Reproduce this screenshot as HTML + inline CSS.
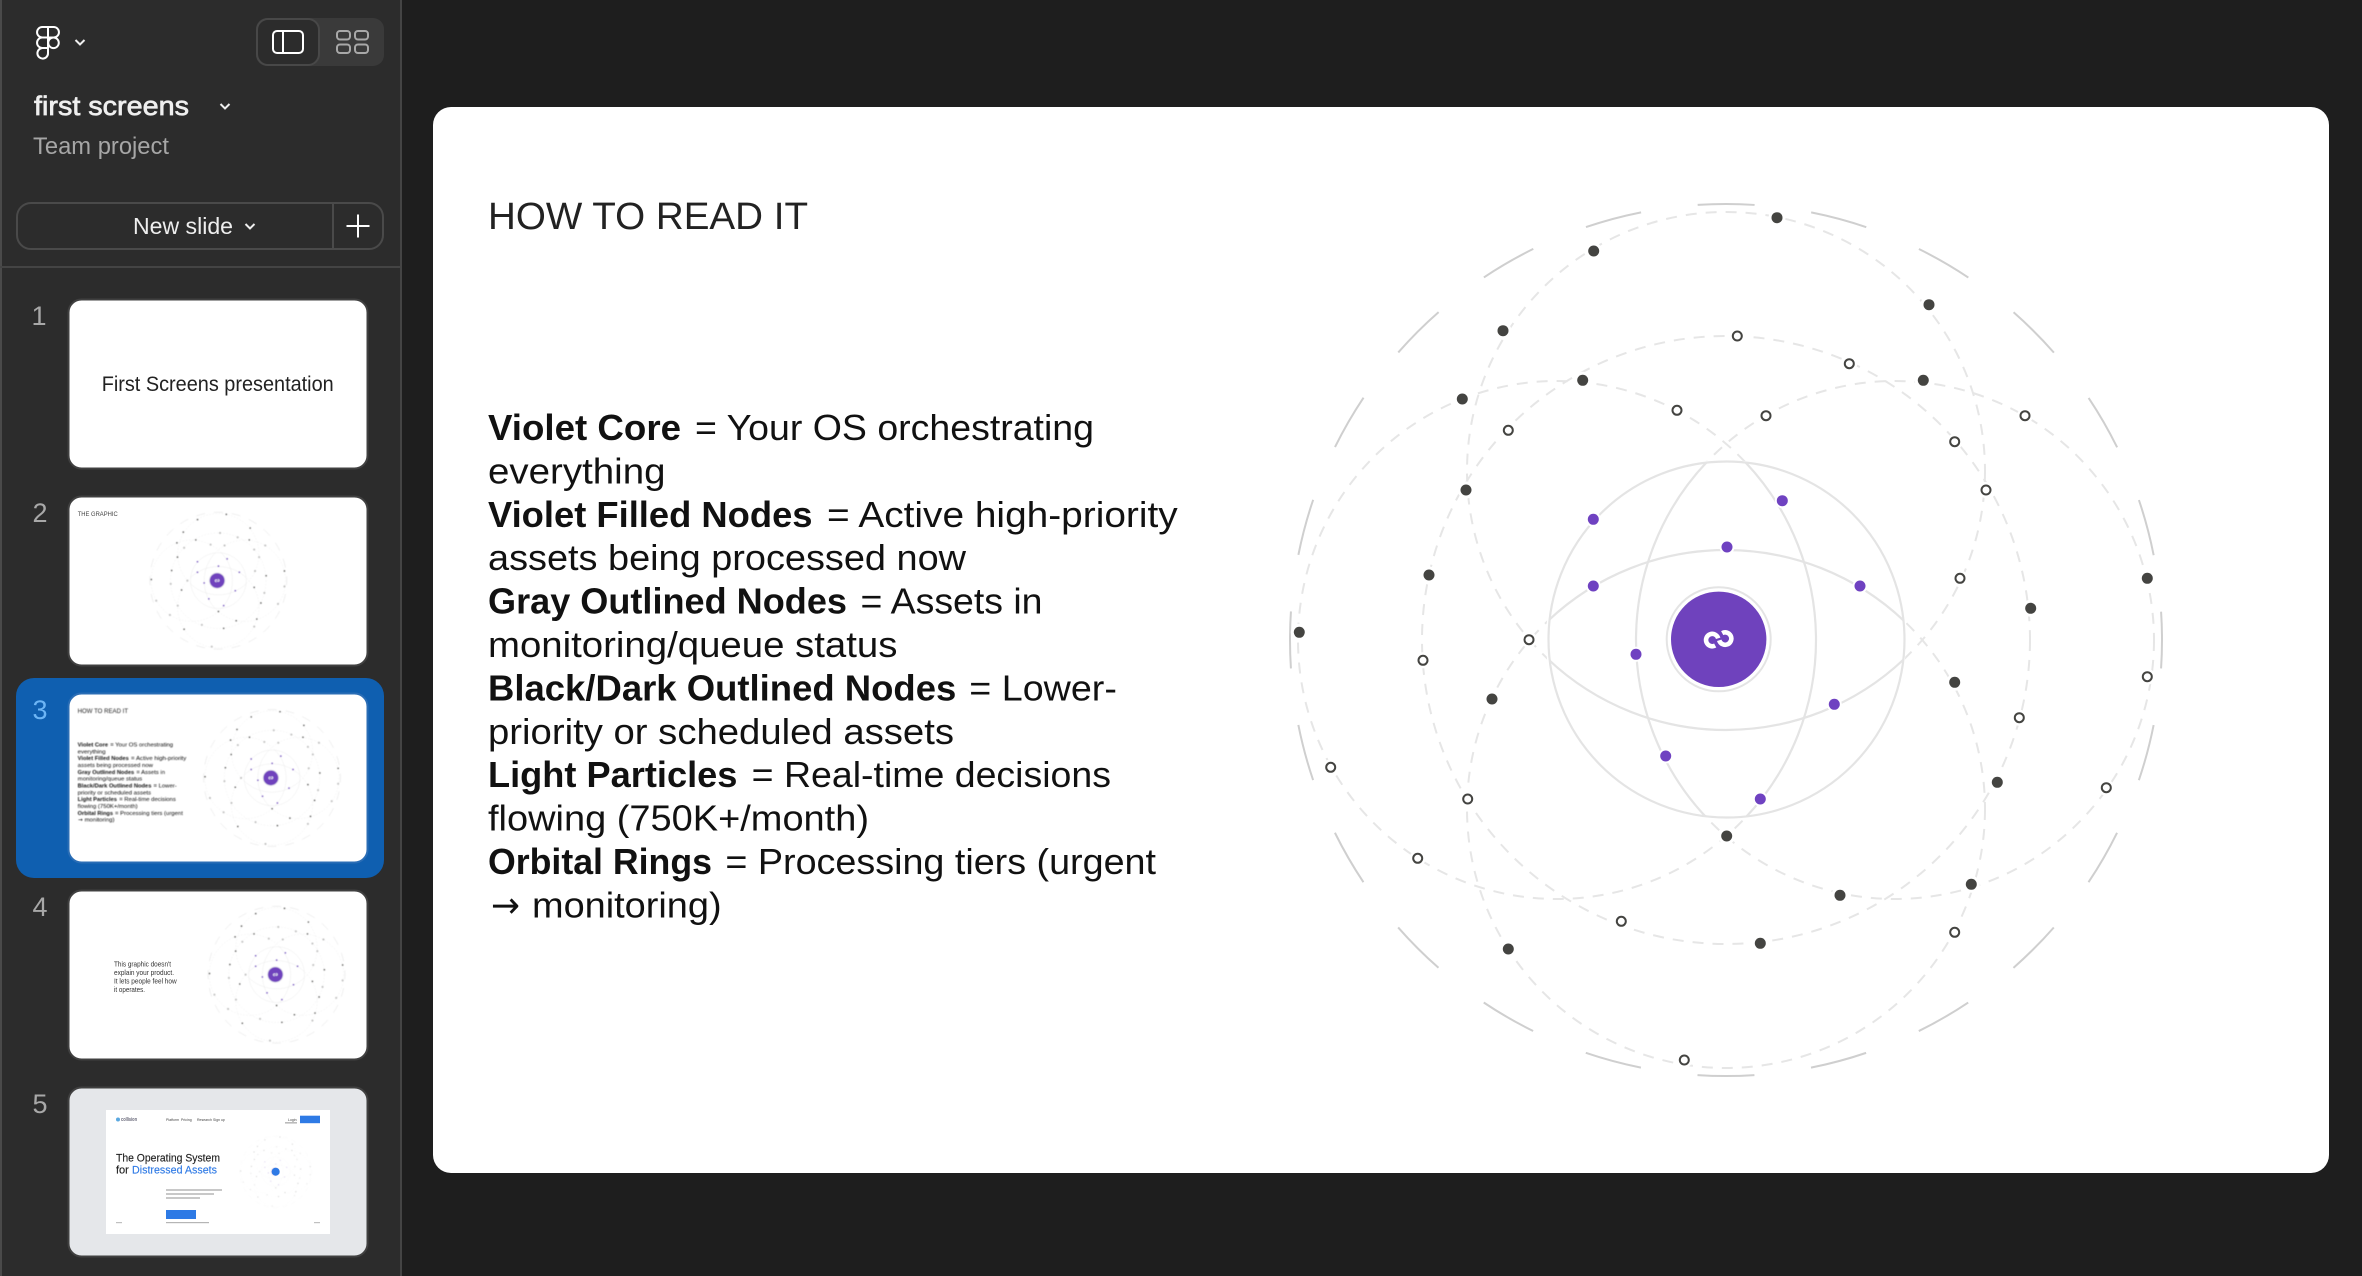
<!DOCTYPE html>
<html><head><meta charset="utf-8"><title>first screens</title>
<style>html,body{margin:0;padding:0;background:#1e1e1e}svg{display:block}text{font-family:"Liberation Sans",sans-serif}</style></head>
<body>
<svg xmlns="http://www.w3.org/2000/svg" width="2362" height="1276" viewBox="0 0 2362 1276">
<defs>
<clipPath id="outside"><path clip-rule="evenodd" d="M1000 0H2400V1300H1000Z M1546 640a180 180 0 1 0 360 0a180 180 0 1 0 -360 0Z"/></clipPath>
<clipPath id="inside"><circle cx="1726" cy="640" r="178"/></clipPath>
<filter id="soft" x="-5%" y="-5%" width="110%" height="110%"><feGaussianBlur stdDeviation="0.3"/></filter>
<filter id="soft2" x="-5%" y="-5%" width="110%" height="110%"><feGaussianBlur stdDeviation="0.4"/></filter>
<g id="graph">
  <circle cx="1726" cy="640" r="436" fill="none" stroke="#cfcfcf" stroke-width="2" stroke-dasharray="57.07 57.07" stroke-dashoffset="28.53"/>
  <g fill="none" stroke="#e6e6e6" stroke-width="2" stroke-dasharray="11 9">
    <circle cx="1726" cy="640" r="304"/>
    <g clip-path="url(#outside)">
      <circle cx="1726" cy="471" r="259"/>
      <circle cx="1726" cy="809" r="259"/>
      <circle cx="1557" cy="640" r="259"/>
      <circle cx="1895" cy="640" r="259"/>
    </g>
  </g>
  <g fill="none" stroke="#e4e4e4" stroke-width="2.2">
    <circle cx="1726.5" cy="639.5" r="178"/>
    <g clip-path="url(#inside)">
      <circle cx="1726" cy="471" r="259"/>
      <circle cx="1726" cy="809" r="259"/>
      <circle cx="1557" cy="640" r="259"/>
      <circle cx="1895" cy="640" r="259"/>
    </g>
  </g>
  <g fill="#6f42c1" stroke="#fff" stroke-width="4" paint-order="stroke">
    <circle cx="1593.3" cy="519.3" r="5.5"/><circle cx="1782.3" cy="500.7" r="5.5"/><circle cx="1727" cy="547" r="5.5"/>
    <circle cx="1593.3" cy="586" r="5.5"/><circle cx="1860" cy="586" r="5.5"/><circle cx="1636" cy="654.3" r="5.5"/>
    <circle cx="1834.3" cy="704.3" r="5.5"/><circle cx="1665.7" cy="756" r="5.5"/><circle cx="1760.3" cy="799" r="5.5"/>
  </g>
  <g fill="#444441" stroke="#fff" stroke-width="6" paint-order="stroke">
    <circle cx="1593.7" cy="251" r="5.5"/><circle cx="1503" cy="330.7" r="5.5"/><circle cx="1582.7" cy="380.3" r="5.5"/>
    <circle cx="1462.3" cy="399" r="5.5"/><circle cx="1466" cy="490" r="5.5"/><circle cx="1429" cy="575" r="5.5"/>
    <circle cx="1299.3" cy="632.3" r="5.5"/><circle cx="1777" cy="217.7" r="5.5"/><circle cx="1929" cy="304.7" r="5.5"/>
    <circle cx="1923.3" cy="380.3" r="5.5"/><circle cx="2147.3" cy="578.3" r="5.5"/><circle cx="2030.7" cy="608.3" r="5.5"/>
    <circle cx="1492" cy="699" r="5.5"/><circle cx="1508.3" cy="949" r="5.5"/><circle cx="1726.7" cy="836" r="5.5"/>
    <circle cx="1954.7" cy="682.3" r="5.5"/><circle cx="1997.3" cy="782.3" r="5.5"/><circle cx="1971.3" cy="884.3" r="5.5"/>
    <circle cx="1840" cy="895.3" r="5.5"/><circle cx="1760.3" cy="943.3" r="5.5"/>
  </g>
  <g fill="#fff" stroke="#fff" stroke-width="4">
    <circle cx="1737.3" cy="336" r="6"/><circle cx="1677" cy="410.3" r="6"/><circle cx="1508.3" cy="430.3" r="6"/><circle cx="1529" cy="639.7" r="6"/>
    <circle cx="1849.3" cy="363.7" r="6"/><circle cx="1766" cy="415.7" r="6"/><circle cx="2025" cy="415.7" r="6"/><circle cx="1954.7" cy="441.7" r="6"/>
    <circle cx="1986" cy="490" r="6"/><circle cx="1960" cy="578.3" r="6"/><circle cx="1423" cy="660.3" r="6"/><circle cx="1330.7" cy="767.3" r="6"/>
    <circle cx="1467.7" cy="799" r="6"/><circle cx="1417.7" cy="858.3" r="6"/><circle cx="1621.3" cy="921.3" r="6"/><circle cx="1684.3" cy="1060" r="6"/>
    <circle cx="2147.3" cy="676.7" r="6"/><circle cx="2019.3" cy="717.7" r="6"/><circle cx="2106.3" cy="787.7" r="6"/><circle cx="1954.7" cy="932.3" r="6"/>
  </g>
  <g fill="#fff" stroke="#444441" stroke-width="2">
    <circle cx="1737.3" cy="336" r="4.5"/><circle cx="1677" cy="410.3" r="4.5"/><circle cx="1508.3" cy="430.3" r="4.5"/><circle cx="1529" cy="639.7" r="4.5"/>
    <circle cx="1849.3" cy="363.7" r="4.5"/><circle cx="1766" cy="415.7" r="4.5"/><circle cx="2025" cy="415.7" r="4.5"/><circle cx="1954.7" cy="441.7" r="4.5"/>
    <circle cx="1986" cy="490" r="4.5"/><circle cx="1960" cy="578.3" r="4.5"/><circle cx="1423" cy="660.3" r="4.5"/><circle cx="1330.7" cy="767.3" r="4.5"/>
    <circle cx="1467.7" cy="799" r="4.5"/><circle cx="1417.7" cy="858.3" r="4.5"/><circle cx="1621.3" cy="921.3" r="4.5"/><circle cx="1684.3" cy="1060" r="4.5"/>
    <circle cx="2147.3" cy="676.7" r="4.5"/><circle cx="2019.3" cy="717.7" r="4.5"/><circle cx="2106.3" cy="787.7" r="4.5"/><circle cx="1954.7" cy="932.3" r="4.5"/>
  </g>
  <circle cx="1718.7" cy="639.3" r="52" fill="#fff" stroke="#e4e4e4" stroke-width="2"/>
  <circle cx="1718.7" cy="639.3" r="47.7" fill="#6f42bd"/>
  <g transform="translate(1718.7 639.3)" fill="none" stroke="#fff" stroke-width="4.6">
    <path d="M-3.5 6.2A6.2 6.2 0 1 1 -0.5 -1"/>
    <path d="M3.5 -6.2A6.2 6.2 0 1 1 0.5 1"/>
  </g>
</g>
</defs>

<!-- backgrounds -->
<rect width="2362" height="1276" fill="#1e1e1e"/>
<rect x="0" y="0" width="400" height="1276" fill="#2c2c2c"/>
<rect x="400" y="0" width="2" height="1276" fill="#444"/>
<rect x="0" y="0" width="2" height="1276" fill="#4a4a4a"/>
<rect x="0" y="266" width="400" height="2" fill="#444"/>

<!-- sidebar header -->
<g fill="none" stroke="#fff" stroke-width="2">
  <path d="M48 27H42.3a5.25 5.25 0 0 0 0 10.5H48Z"/>
  <path d="M48 27h5.7a5.25 5.25 0 0 1 0 10.5H48Z"/>
  <path d="M48 37.5H42.3a5.25 5.25 0 0 0 0 10.5H48Z"/>
  <circle cx="53.5" cy="42.8" r="5.3"/>
  <path d="M42.3 48H48V53a5.3 5.3 0 1 1 -5.7 -5Z"/>
</g>
<path d="M75.5 40l4.5 4.5 4.5-4.5" fill="none" stroke="#eee" stroke-width="2"/>
<rect x="256" y="18" width="128" height="48" rx="11" fill="#3a3a3a"/>
<rect x="257" y="19" width="62" height="46" rx="11" fill="#2c2c2c" stroke="#484848" stroke-width="2"/>
<rect x="273" y="31" width="30" height="22" rx="4" fill="none" stroke="#fff" stroke-width="2"/>
<path d="M283 31V53" stroke="#fff" stroke-width="2"/>
<g fill="none" stroke="#a8a8a8" stroke-width="2">
  <rect x="337" y="31" width="13" height="8.5" rx="3"/><rect x="355" y="31" width="13" height="8.5" rx="3"/>
  <rect x="337" y="44.5" width="13" height="8.5" rx="3"/><rect x="355" y="44.5" width="13" height="8.5" rx="3"/>
</g>
<text x="34" y="115" font-size="27" fill="#efefef" stroke="#efefef" stroke-width=".7" textLength="155" lengthAdjust="spacingAndGlyphs">first screens</text>
<path d="M220.5 104l4.5 4.5 4.5-4.500" fill="none" stroke="#eee" stroke-width="2"/>
<text x="33" y="154" font-size="24" fill="#a6a6a6" textLength="136" lengthAdjust="spacingAndGlyphs">Team project</text>

<rect x="17" y="203" width="366" height="46" rx="14" fill="none" stroke="#4a4a4a" stroke-width="2"/>
<path d="M333 203V249" stroke="#4a4a4a" stroke-width="2"/>
<text x="133" y="234" font-size="23" fill="#eee" textLength="100" lengthAdjust="spacingAndGlyphs">New slide</text>
<path d="M245.5 224l4.5 4.5 4.5-4.500" fill="none" stroke="#eee" stroke-width="2"/>
<path d="M346.500 226h23M358 214.500v23" fill="none" stroke="#fff" stroke-width="2"/>

<!-- slide numbers -->
<g font-size="27" fill="#a8a8a8" text-anchor="middle">
  <text x="39" y="325">1</text>
  <text x="40" y="522">2</text>
  <text x="40" y="916">4</text>
  <text x="40" y="1113">5</text>
</g>

<!-- selected -->
<rect x="16" y="678" width="368" height="200" rx="18" fill="#0f5fb0"/>
<text x="40" y="719" font-size="27" fill="#6db5f5" text-anchor="middle">3</text>

<!-- thumbnails -->
<g stroke="#404040" stroke-width="2" fill="#fff">
  <rect x="68.500" y="299.500" width="299" height="169" rx="13"/>
  <rect x="68.500" y="496.500" width="299" height="169" rx="13"/>
  <rect x="68.500" y="693.500" width="299" height="169" rx="13" stroke="#2a6db5"/>
  <rect x="68.500" y="890.500" width="299" height="169" rx="13"/>
  <rect x="68.500" y="1087.500" width="299" height="169" rx="13" fill="#e5e7ea"/>
</g>
<text x="101.7" y="391" font-size="21" fill="#222" textLength="232" lengthAdjust="spacingAndGlyphs">First Screens presentation</text>

<text x="77.700" y="516" font-size="6" fill="#444" textLength="40" lengthAdjust="spacingAndGlyphs" filter="url(#soft)">THE GRAPHIC</text>
<g filter="url(#soft2)"><use href="#graph" transform="translate(218.3 580.7) scale(.157) translate(-1726 -640)"/></g>

<g filter="url(#soft2)"><use href="#graph" transform="translate(272 778) scale(.157) translate(-1726 -640)"/></g>
<g filter="url(#soft2)"><g transform="translate(69 694) scale(.1575) translate(-433 -107)">
  <use href="#slidetext"/>
</g></g>

<g filter="url(#soft2)"><use href="#graph" transform="translate(276.500 974.7) scale(.157) translate(-1726 -640)"/></g>
<g font-size="7.500" fill="#333" filter="url(#soft)">
  <text x="114" y="966.500" textLength="57" lengthAdjust="spacingAndGlyphs">This graphic doesn't</text>
  <text x="114" y="975" textLength="60" lengthAdjust="spacingAndGlyphs">explain your product.</text>
  <text x="114" y="983.500" textLength="62.700" lengthAdjust="spacingAndGlyphs">It lets people feel how</text>
  <text x="114" y="992" textLength="31" lengthAdjust="spacingAndGlyphs">it operates.</text>
</g>

<!-- thumb 5 -->
<rect x="106" y="1110" width="224" height="124" fill="#fff"/>
<g opacity=".45" filter="url(#soft2)"><use href="#graph" transform="translate(275.7 1171.7) scale(.082) translate(-1726 -640)"/></g>
<circle cx="275.700" cy="1171.700" r="4" fill="#2f7ae5"/>
<g filter="url(#soft)">
  <text x="116" y="1161.500" font-size="11" fill="#222" stroke="#222" stroke-width=".15" textLength="104" lengthAdjust="spacingAndGlyphs">The Operating System</text>
  <text x="116" y="1173.700" font-size="11" fill="#222" stroke="#222" stroke-width=".15">for</text>
  <text x="132" y="1173.700" font-size="11" fill="#2f7ae5" stroke="#2f7ae5" stroke-width=".15" textLength="85" lengthAdjust="spacingAndGlyphs">Distressed Assets</text>
  <circle cx="118" cy="1119.500" r="2" fill="#5aa8e0"/>
  <text x="121" y="1121" font-size="5" font-weight="700" fill="#667" textLength="16" lengthAdjust="spacingAndGlyphs">collision</text>
  <text x="166" y="1121" font-size="3.500" fill="#444">Platform</text>
  <text x="181" y="1121" font-size="3.500" fill="#444">Pricing</text>
  <text x="197" y="1121" font-size="3.500" fill="#444">Research</text>
  <text x="213" y="1121" font-size="3.500" fill="#444">Sign up</text>
  <text x="288" y="1121" font-size="3.500" fill="#444">Login</text>
  <rect x="285" y="1122.500" width="12" height=".8" fill="#777"/>
  <rect x="300" y="1115.700" width="20" height="7.500" fill="#2f7ae5"/>
  <rect x="166" y="1189" width="56" height="2" fill="#c8c8c8"/>
  <rect x="166" y="1193" width="48" height="2" fill="#c8c8c8"/>
  <rect x="166" y="1197" width="34" height="2" fill="#c8c8c8"/>
  <rect x="166" y="1210" width="30" height="9" fill="#2f7ae5"/>
  <rect x="166" y="1222" width="43" height="1.200" fill="#b5b5b5"/>
  <rect x="116" y="1222" width="6" height="1.200" fill="#c0c0c0"/>
  <rect x="314" y="1222" width="6" height="1.200" fill="#c0c0c0"/>
</g>

<!-- main slide -->
<rect x="433" y="107" width="1896" height="1066" rx="18" fill="#fff"/>
<use href="#graph"/>

<g id="slidetext" fill="#111">
  <text x="488" y="229" font-size="38" fill="#222" textLength="320" lengthAdjust="spacingAndGlyphs">HOW TO READ IT</text>
  <g font-size="36">
    <text x="488" y="440" font-weight="700" textLength="193" lengthAdjust="spacingAndGlyphs">Violet Core</text>
    <text x="695" y="440" textLength="399" lengthAdjust="spacingAndGlyphs">= Your OS orchestrating</text>
    <text x="488" y="483.400" textLength="177.500" lengthAdjust="spacingAndGlyphs">everything</text>
    <text x="488" y="526.800" font-weight="700" textLength="324.500" lengthAdjust="spacingAndGlyphs">Violet Filled Nodes</text>
    <text x="827" y="526.800" textLength="350.700" lengthAdjust="spacingAndGlyphs">= Active high-priority</text>
    <text x="488" y="570.200" textLength="478" lengthAdjust="spacingAndGlyphs">assets being processed now</text>
    <text x="488" y="613.600" font-weight="700" textLength="359" lengthAdjust="spacingAndGlyphs">Gray Outlined Nodes</text>
    <text x="860.500" y="613.600" textLength="182" lengthAdjust="spacingAndGlyphs">= Assets in</text>
    <text x="488" y="657" textLength="409.400" lengthAdjust="spacingAndGlyphs">monitoring/queue status</text>
    <text x="488" y="700.400" font-weight="700" textLength="468.300" lengthAdjust="spacingAndGlyphs">Black/Dark Outlined Nodes</text>
    <text x="969.300" y="700.400" textLength="147.600" lengthAdjust="spacingAndGlyphs">= Lower-</text>
    <text x="488" y="743.800" textLength="466" lengthAdjust="spacingAndGlyphs">priority or scheduled assets</text>
    <text x="488" y="787.200" font-weight="700" textLength="249.400" lengthAdjust="spacingAndGlyphs">Light Particles</text>
    <text x="751.700" y="787.200" textLength="359.300" lengthAdjust="spacingAndGlyphs">= Real-time decisions</text>
    <text x="488" y="830.600" textLength="381" lengthAdjust="spacingAndGlyphs">flowing (750K+/month)</text>
    <text x="488" y="874" font-weight="700" textLength="224" lengthAdjust="spacingAndGlyphs">Orbital Rings</text>
    <text x="725.400" y="874" textLength="430.600" lengthAdjust="spacingAndGlyphs">= Processing tiers (urgent</text>
    <text x="491" y="917.400" textLength="29" lengthAdjust="spacingAndGlyphs" style="font-family:'DejaVu Sans',sans-serif">→</text>
    <text x="532" y="917.400" textLength="189.600" lengthAdjust="spacingAndGlyphs">monitoring)</text>
  </g>
</g>
</svg>
</body></html>
